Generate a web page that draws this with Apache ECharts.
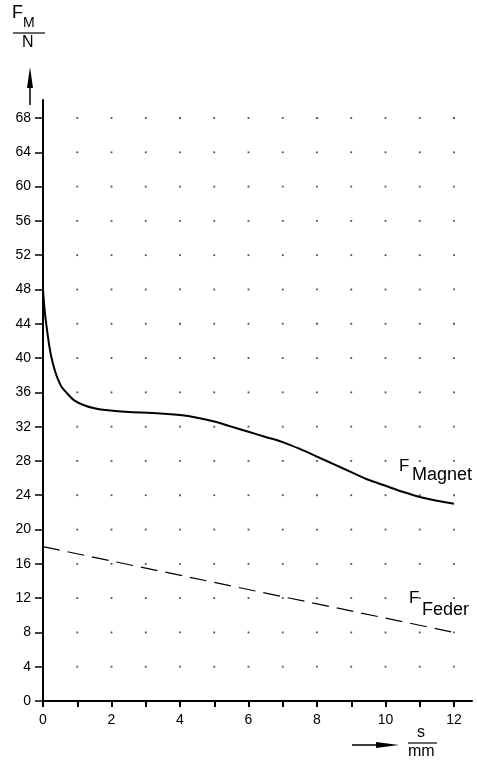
<!DOCTYPE html>
<html><head><meta charset="utf-8">
<script src="https://cdn.jsdelivr.net/npm/echarts@6/dist/echarts.min.js"></script>
<style>html,body{margin:0;padding:0;background:#fff}#c{width:477px;height:760px}</style>
</head><body><div id="c"></div>
<script>
// Data
const magnetS = [0, 0.05, 0.1, 0.18, 0.25, 0.35, 0.45, 0.55, 0.7, 0.9, 1.2, 1.5, 1.9, 2.5, 3.2, 4.0, 4.5, 5.0, 5.5, 6.0, 6.5, 7.0, 7.5, 8.0, 8.5, 9.0, 9.5, 10.0, 10.5, 11.0, 11.5, 12.0];
const magnetF = [48, 45.5, 43.8, 41.5, 40, 38.5, 37.4, 36.6, 35.9, 35.1, 34.5, 34.15, 33.9, 33.7, 33.6, 33.35, 33.05, 32.6, 32.0, 31.4, 30.8, 30.2, 29.4, 28.5, 27.6, 26.7, 25.8, 25.1, 24.4, 23.8, 23.35, 23.0];
const federS = [0, 12];
const federF = [18, 8];
const xTicks = [0,1,2,3,4,5,6,7,8,9,10,11,12];
const xLabels = ['0','','2','','4','','6','','8','','10','','12'];
const yTicks = [0,4,8,12,16,20,24,28,32,36,40,44,48,52,56,60,64,68];

const font = 'Liberation Sans, Arial, sans-serif';
const dots = [];
xTicks.slice(1).forEach(x => yTicks.slice(1).forEach(y => dots.push([x, y])));

const chart = echarts.init(document.getElementById('c'), null, {renderer: 'canvas'});
chart.setOption({
  animation: false,
  backgroundColor: '#fff',
  grid: [
    {left: 43, right: 5, top: 100, bottom: 59},
    {left: 43, right: 23, top: 118, bottom: 59}
  ],
  xAxis: [
    {gridIndex: 0, type: 'value', min: 0, max: 12 * 429 / 411,
     axisLine: {show: true, lineStyle: {color: '#000', width: 2}},
     axisTick: {show: false}, axisLabel: {show: false}, splitLine: {show: false}},
    {gridIndex: 1, type: 'value', min: 0, max: 12, interval: 1,
     axisLine: {show: false},
     axisTick: {show: true, length: 6, lineStyle: {color: '#000', width: 2}},
     axisLabel: {show: true, margin: 12, color: '#000', fontSize: 14, fontFamily: font,
       formatter: v => xLabels[xTicks.indexOf(v)] ?? ''},
     splitLine: {show: false}}
  ],
  yAxis: [
    {gridIndex: 0, type: 'value', min: 0, max: 68 * 601 / 583,
     axisLine: {show: true, lineStyle: {color: '#000', width: 2}},
     axisTick: {show: false}, axisLabel: {show: false}, splitLine: {show: false}},
    {gridIndex: 1, type: 'value', min: 0, max: 68, interval: 4,
     axisLine: {show: false},
     axisTick: {show: true, length: 8, lineStyle: {color: '#000', width: 1.5}},
     axisLabel: {show: true, margin: 12, color: '#000', fontSize: 14, fontFamily: font},
     splitLine: {show: false}}
  ],
  series: [
    {type: 'scatter', xAxisIndex: 1, yAxisIndex: 1, data: dots, symbol: 'rect', symbolSize: 1.8,
     itemStyle: {color: '#222'}, silent: true},
    {type: 'line', xAxisIndex: 1, yAxisIndex: 1, name: 'Magnet',
     data: magnetS.map((s, i) => [s, magnetF[i]]), smooth: 0.3,
     showSymbol: false, lineStyle: {color: '#000', width: 2}},
    {type: 'line', xAxisIndex: 1, yAxisIndex: 1, name: 'Feder',
     data: federS.map((s, i) => [s, federF[i]]),
     showSymbol: false, lineStyle: {color: '#000', width: 1.2, type: [17, 8]}}
  ],
  graphic: [
    // y-axis name F_M / N
    {type: 'text', left: 12, top: 4, style: {text: 'F', font: '18px ' + font, fill: '#000'}},
    {type: 'text', left: 23, top: 16, style: {text: 'M', font: '14px ' + font, fill: '#000'}},
    {type: 'line', shape: {x1: 13, y1: 33, x2: 45, y2: 33}, style: {stroke: '#000', lineWidth: 1.2}},
    {type: 'text', left: 22, top: 35, style: {text: 'N', font: '16px ' + font, fill: '#000'}},
    {type: 'line', shape: {x1: 30, y1: 86, x2: 30, y2: 105}, style: {stroke: '#000', lineWidth: 1.5}},
    {type: 'polygon', shape: {points: [[30, 67], [27, 88], [33, 88]]}, style: {fill: '#000'}},
    // x-axis name s / mm
    {type: 'line', shape: {x1: 352, y1: 745, x2: 378, y2: 745}, style: {stroke: '#000', lineWidth: 1.5}},
    {type: 'polygon', shape: {points: [[399, 745], [376, 742], [376, 748]]}, style: {fill: '#000'}},
    {type: 'text', left: 417, top: 725, style: {text: 's', font: '16px ' + font, fill: '#000'}},
    {type: 'line', shape: {x1: 408, y1: 743, x2: 437, y2: 743}, style: {stroke: '#000', lineWidth: 1.2}},
    {type: 'text', left: 408, top: 744, style: {text: 'mm', font: '16px ' + font, fill: '#000'}},
    // curve labels
    {type: 'text', left: 399, top: 458, style: {text: 'F', font: '17px ' + font, fill: '#000'}},
    {type: 'text', left: 412, top: 466, style: {text: 'Magnet', font: '18px ' + font, fill: '#000'}},
    {type: 'text', left: 409, top: 590, style: {text: 'F', font: '17px ' + font, fill: '#000'}},
    {type: 'text', left: 422, top: 601, style: {text: 'Feder', font: '18px ' + font, fill: '#000'}}
  ]
});
</script></body></html>
